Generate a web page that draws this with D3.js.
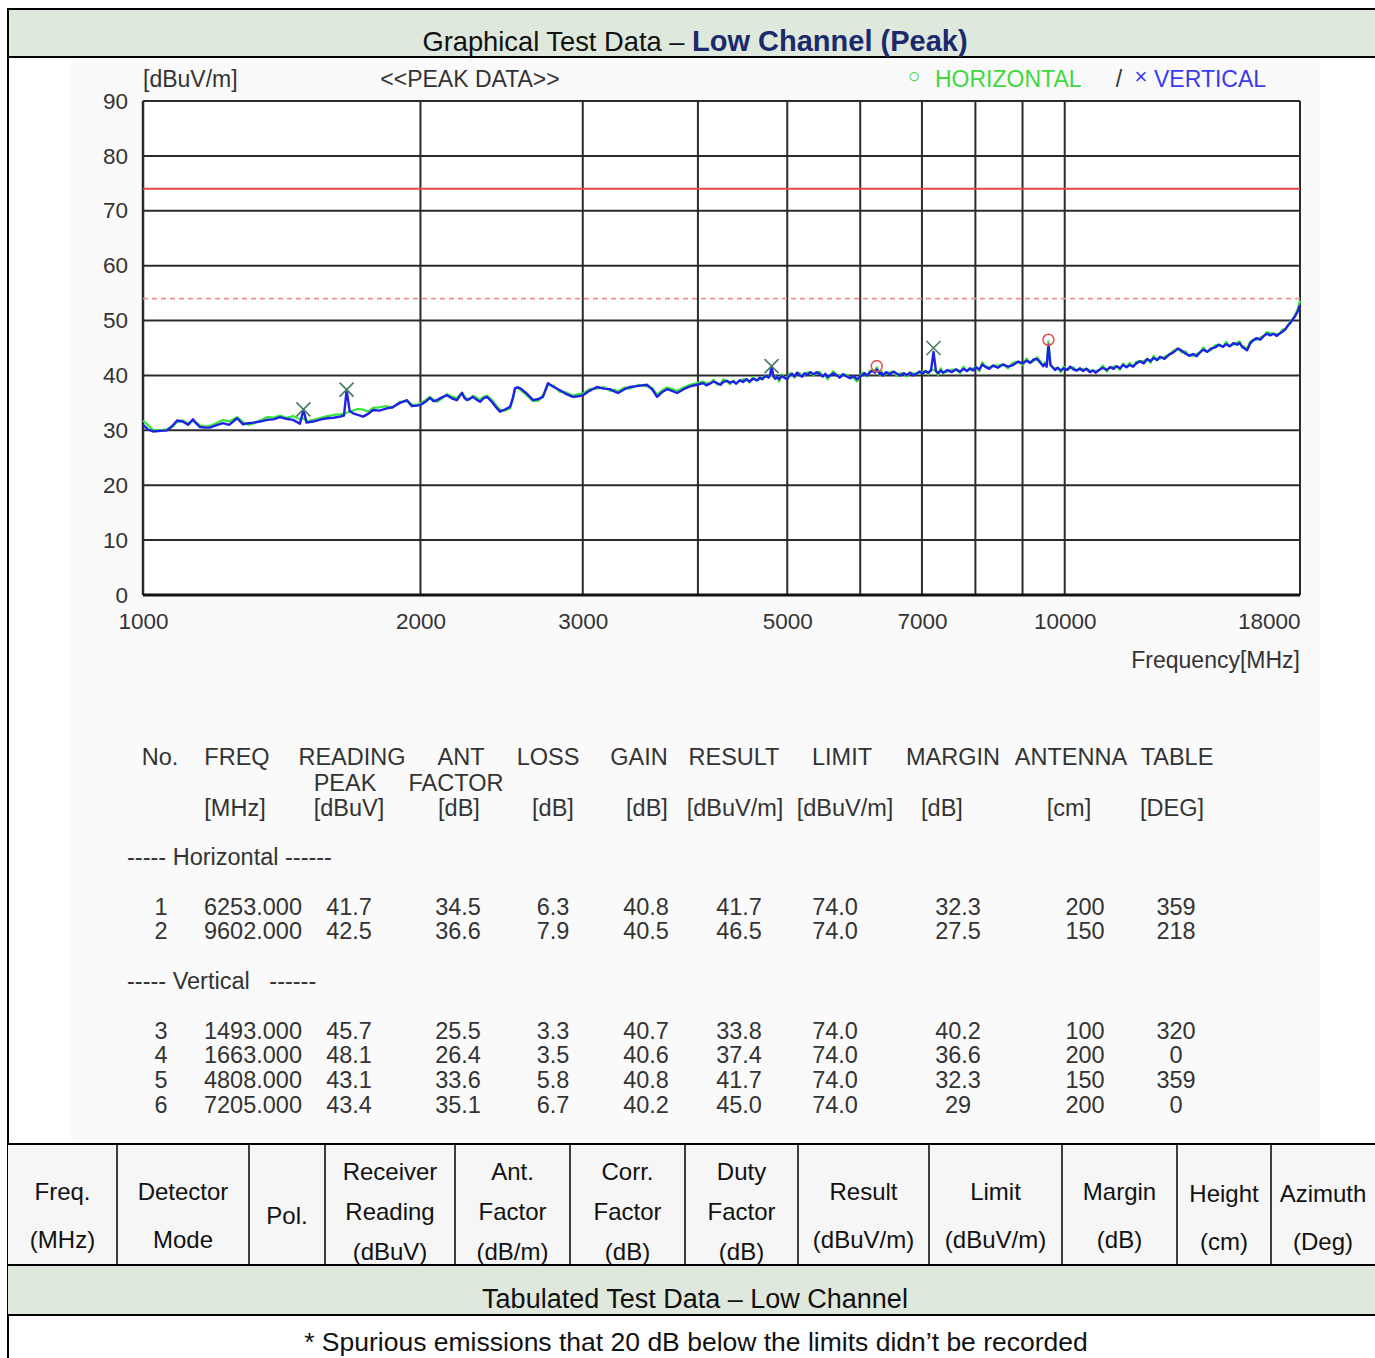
<!DOCTYPE html>
<html>
<head>
<meta charset="utf-8">
<script src="https://cdn.jsdelivr.net/npm/d3@7/dist/d3.min.js"></script>
<style>
  html, body { margin: 0; padding: 0; background: #ffffff; }
  svg { display: block; }
  text { font-family: "Liberation Sans", Arial, Helvetica, sans-serif; }
</style>
</head>
<body>
<svg id="page" width="1375" height="1358"></svg>
<script>
// ---------------- sweep data (MHz, dBuV/m) ----------------
const freqMHz = [
  1000, 1012, 1025, 1045, 1062, 1076, 1089, 1104, 1119, 1133,
  1143, 1153, 1168, 1182, 1200, 1221, 1240, 1265, 1284, 1300,
  1316, 1340, 1363, 1385, 1408, 1430, 1455, 1480, 1493, 1505,
  1530, 1560, 1584, 1610, 1636, 1652, 1663, 1676, 1690, 1710,
  1733, 1755, 1777, 1805, 1839, 1865, 1900, 1934, 1958, 1980,
  2000, 2025, 2048, 2066, 2084, 2110, 2137, 2165, 2191, 2205,
  2219, 2232, 2246, 2263, 2280, 2300, 2321, 2340, 2362, 2390,
  2422, 2440, 2470, 2502, 2520, 2533, 2550, 2565, 2600, 2650,
  2685, 2716, 2735, 2750, 2790, 2834, 2880, 2927, 2965, 3001,
  3050, 3108, 3160, 3211, 3245, 3276, 3330, 3376, 3450, 3523,
  3570, 3612, 3660, 3703, 3750, 3797, 3860, 3922, 3990, 4052,
  4085, 4120, 4160, 4196, 4230, 4260, 4300, 4334, 4370, 4400,
  4440, 4477, 4515, 4550, 4590, 4636, 4670, 4700, 4728, 4753,
  4772, 4790, 4808, 4830, 4850, 4874, 4900, 4930, 4965, 4997,
  5030, 5060, 5090, 5124, 5160, 5190, 5220, 5253, 5300, 5340,
  5380, 5427, 5465, 5500, 5530, 5565, 5610, 5650, 5700, 5748,
  5800, 5850, 5900, 5952, 5990, 6030, 6065, 6103, 6150, 6194,
  6225, 6253, 6280, 6300, 6325, 6351, 6400, 6460, 6520, 6577,
  6630, 6690, 6740, 6794, 6850, 6900, 6960, 7019, 7065, 7110,
  7160, 7205, 7250, 7290, 7335, 7379, 7460, 7540, 7620, 7700,
  7765, 7830, 7890, 7954, 8015, 8080, 8140, 8196, 8280, 8362,
  8460, 8570, 8680, 8787, 8900, 9010, 9090, 9170, 9250, 9333,
  9400, 9474, 9520, 9560, 9602, 9650, 9700, 9761, 9830, 9900,
  9980, 10060, 10140, 10220, 10300, 10390, 10470, 10560, 10650, 10730,
  10810, 10900, 11000, 11110, 11200, 11300, 11390, 11480, 11570, 11670,
  11760, 11860, 11960, 12070, 12180, 12290, 12390, 12490, 12590, 12690,
  12830, 12980, 13120, 13270, 13400, 13520, 13650, 13780, 13900, 14020,
  14140, 14270, 14410, 14560, 14700, 14850, 14970, 15100, 15240, 15380,
  15480, 15580, 15670, 15770, 15890, 16010, 16150, 16300, 16440, 16580,
  16710, 16850, 16990, 17130, 17240, 17350, 17450, 17560, 17670, 17780,
  17890, 18000
];

const verticalTrace = [
  31.0, 30.2, 29.8, 29.9, 30.0, 30.8, 31.8, 31.6, 31.0, 32.0,
  31.2, 30.6, 30.5, 30.5, 30.9, 31.3, 31.0, 32.2, 31.1, 31.3,
  31.4, 31.6, 31.9, 32.0, 32.4, 32.1, 31.9, 31.2, 33.7, 31.4,
  31.6, 32.0, 32.2, 32.3, 32.5, 32.7, 37.3, 33.5, 33.1, 32.8,
  32.5, 33.0, 33.7, 33.6, 34.0, 34.2, 35.0, 35.5, 34.4, 34.5,
  34.6, 35.2, 35.9, 35.3, 35.5, 36.0, 36.4, 35.8, 35.5, 36.2,
  36.8, 35.9, 35.5, 35.8, 36.1, 35.6, 35.2, 35.8, 36.1, 35.2,
  34.0, 33.4, 33.8, 34.3, 36.0, 37.7, 37.8, 37.7, 36.9, 35.5,
  35.7, 36.1, 37.5, 38.6, 37.9, 37.3, 36.6, 36.1, 36.2, 36.4,
  37.2, 37.9, 37.6, 37.5, 37.1, 36.8, 37.5, 37.9, 38.1, 38.3,
  37.4, 36.1, 37.0, 37.5, 37.2, 36.8, 37.5, 38.0, 38.3, 38.6,
  38.2, 38.5, 38.9, 38.6, 38.3, 38.8, 39.0, 38.7, 38.9, 38.5,
  39.1, 38.8, 39.3, 38.9, 39.4, 39.1, 39.6, 39.3, 39.8, 39.9,
  39.6, 40.1, 41.7, 39.9, 39.4, 39.7, 39.3, 39.9, 39.6, 39.3,
  40.0, 40.3, 39.8, 40.5, 40.0, 39.8, 40.4, 40.1, 40.6, 40.2,
  40.6, 40.2, 39.8, 40.3, 39.7, 40.0, 40.4, 40.1, 39.6, 40.2,
  39.8, 39.5, 39.9, 39.3, 39.7, 40.1, 40.4, 40.0, 40.6, 40.9,
  40.5, 41.1, 40.7, 40.2, 40.5, 40.0, 40.6, 40.2, 40.7, 40.3,
  40.0, 40.4, 40.1, 40.5, 40.0, 40.3, 40.7, 40.4, 40.8, 40.5,
  40.9, 44.3, 40.8, 40.4, 40.9, 40.5, 41.0, 40.6, 41.1, 40.7,
  41.2, 40.8, 41.3, 40.9, 41.5, 41.1, 42.0, 41.6, 41.2, 41.8,
  41.4, 42.0, 41.6, 41.9, 42.5, 42.2, 42.7, 42.3, 42.9, 43.0,
  42.4, 41.7, 42.1, 41.6, 45.6, 41.9, 41.5, 41.0, 41.4, 40.9,
  41.3, 41.0, 41.6, 41.1, 40.9, 41.3, 40.8, 41.2, 40.6, 40.9,
  40.5, 41.0, 41.4, 41.0, 41.5, 41.2, 41.7, 41.3, 41.9, 41.5,
  41.9, 41.6, 42.2, 42.6, 42.2, 43.0, 42.6, 43.2, 42.8, 43.4,
  43.0, 43.8, 44.2, 44.9, 44.5, 44.0, 43.6, 43.9, 43.5, 44.2,
  44.7, 44.3, 44.9, 45.1, 45.6, 45.2, 45.7, 45.3, 45.9, 45.6,
  45.9, 45.2, 44.9, 44.6, 45.8, 46.4, 46.8, 46.5, 47.2, 47.6,
  47.3, 47.6, 47.2, 47.7, 48.0, 48.4, 49.0, 49.5, 50.2, 50.8,
  51.6, 52.8
];

const horizontalTrace = [
  31.8, 31.0, 30.1, 30.0, 30.2, 30.6, 31.5, 31.8, 31.3, 31.7,
  31.4, 30.9, 30.7, 30.8, 31.3, 31.9, 31.6, 32.4, 31.5, 31.0,
  31.2, 31.8, 32.4, 32.3, 32.7, 32.3, 32.6, 32.0, 32.2, 31.6,
  31.9, 32.3, 32.6, 32.8, 32.9, 33.0, 33.2, 33.4, 33.6, 33.9,
  33.8, 33.4, 34.1, 34.2, 34.4, 34.1, 35.2, 35.3, 34.7, 34.6,
  34.9, 35.5, 36.1, 35.6, 35.2, 35.8, 36.6, 36.1, 35.9, 36.4,
  36.9, 36.2, 35.8, 35.6, 36.3, 36.0, 35.5, 36.1, 36.3, 35.6,
  34.3, 33.8, 33.6, 34.0, 35.7, 37.5, 37.9, 37.4, 36.6, 35.3,
  35.4, 36.4, 37.3, 38.3, 38.1, 37.0, 36.9, 36.3, 36.6, 36.7,
  37.5, 37.6, 37.9, 37.2, 37.4, 37.1, 37.8, 37.6, 38.3, 38.0,
  37.7, 36.5, 37.3, 37.8, 37.5, 37.2, 37.8, 38.3, 38.6, 38.9,
  38.6, 38.5, 39.2, 38.4, 38.3, 39.3, 39.0, 38.4, 39.1, 38.5,
  39.1, 39.3, 39.3, 38.7, 39.7, 39.1, 39.3, 39.7, 39.8, 39.7,
  39.9, 40.1, 40.2, 39.7, 39.8, 39.7, 38.9, 40.2, 39.6, 39.5,
  40.4, 40.3, 39.6, 40.5, 40.4, 39.8, 40.1, 40.5, 40.6, 40.0,
  40.6, 40.6, 39.8, 40.0, 39.3, 40.0, 40.8, 40.1, 39.9, 40.2,
  40.1, 39.5, 39.6, 38.9, 39.7, 40.5, 40.4, 39.8, 40.9, 40.9,
  40.8, 41.5, 40.7, 40.0, 40.8, 40.0, 40.3, 40.6, 40.7, 39.9,
  40.4, 40.4, 39.8, 40.5, 40.4, 40.3, 40.4, 40.8, 40.8, 40.2,
  41.2, 41.0, 40.8, 40.1, 41.3, 40.5, 40.7, 41.0, 41.1, 40.4,
  41.6, 40.8, 41.0, 41.3, 41.5, 40.8, 42.4, 41.6, 41.5, 41.8,
  41.8, 42.0, 41.3, 42.3, 42.5, 41.9, 43.1, 42.3, 42.6, 43.3,
  42.7, 41.7, 42.4, 41.9, 46.2, 42.1, 41.5, 41.3, 41.4, 40.6,
  41.6, 41.0, 41.3, 41.5, 40.9, 41.0, 41.2, 41.2, 40.9, 40.9,
  40.8, 41.0, 41.8, 40.7, 41.5, 41.6, 41.7, 41.0, 42.2, 41.5,
  42.3, 41.6, 42.5, 42.6, 42.6, 43.0, 42.3, 43.6, 42.8, 43.1,
  43.4, 43.8, 44.5, 44.9, 44.2, 44.4, 43.6, 43.6, 43.9, 44.2,
  45.1, 44.3, 44.6, 45.5, 45.6, 45.2, 46.1, 45.3, 45.6, 46.0,
  46.2, 45.2, 45.3, 44.6, 46.2, 46.4, 46.5, 46.9, 47.2, 47.9,
  47.7, 47.6, 47.5, 47.7, 48.4, 48.4, 49.0, 49.8, 50.2, 51.0,
  52.0, 53.6
];

// ---------------- axes ----------------
const yTicks = [0, 10, 20, 30, 40, 50, 60, 70, 80, 90];
const xTickLabels = [1000, 2000, 3000, 5000, 7000, 10000, 18000];
const xGridLines = [2000, 3000, 4000, 5000, 6000, 7000, 8000, 9000, 10000];
const peakLimit = 74;
const averageLimit = 54;

// ---------------- peak list ----------------
const peakNo      = [1, 2, 3, 4, 5, 6];
const peakPol     = ["H", "H", "V", "V", "V", "V"];
const peakFreq    = [6253, 9602, 1493, 1663, 4808, 7205];
const peakReading = [41.7, 42.5, 45.7, 48.1, 43.1, 43.4];
const antFactor   = [34.5, 36.6, 25.5, 26.4, 33.6, 35.1];
const cableLoss   = [6.3, 7.9, 3.3, 3.5, 5.8, 6.7];
const ampGain     = [40.8, 40.5, 40.7, 40.6, 40.8, 40.2];
const peakResult  = [41.7, 46.5, 33.8, 37.4, 41.7, 45.0];
const peakLimitCol = [74.0, 74.0, 74.0, 74.0, 74.0, 74.0];
const peakMargin  = [32.3, 27.5, 40.2, 36.6, 32.3, 29];
const antHeight   = [200, 150, 100, 200, 150, 200];
const tableDeg    = [359, 218, 320, 0, 359, 0];

const listHead1 = ["No.", "FREQ", "READING", "ANT", "LOSS", "GAIN", "RESULT", "LIMIT", "MARGIN", "ANTENNA", "TABLE"];
const listHead2 = ["", "", "PEAK", "FACTOR", "", "", "", "", "", "", ""];
const listUnits = ["", "[MHz]", "[dBuV]", "[dB]", "[dB]", "[dB]", "[dBuV/m]", "[dBuV/m]", "[dB]", "[cm]", "[DEG]"];

// ---------------- summary table header ----------------
const summaryHeads = [
  ["Freq.", "(MHz)"], ["Detector", "Mode"], ["Pol."],
  ["Receiver", "Reading", "(dBuV)"], ["Ant.", "Factor", "(dB/m)"],
  ["Corr.", "Factor", "(dB)"], ["Duty", "Factor", "(dB)"],
  ["Result", "(dBuV/m)"], ["Limit", "(dBuV/m)"], ["Margin", "(dB)"],
  ["Height", "(cm)"], ["Azimuth", "(Deg)"]
];
const summaryEdges = [8, 117, 249, 325, 455, 570, 685, 798, 929, 1062, 1177, 1271, 1375];

// ================= drawing =================
(function draw() {
const W = 1375, H = 1358;
const svg = d3.select("#page");
const band = "#dfe8dc";
const ink = "#333333";

// report frame + title band
svg.append("rect").attr("x", 8).attr("y", 9).attr("width", W - 8).attr("height", 48).attr("fill", band);
svg.append("line").attr("x1", 8).attr("x2", W).attr("y1", 9).attr("y2", 9).attr("stroke", "#000").attr("stroke-width", 2);
svg.append("line").attr("x1", 8).attr("x2", W).attr("y1", 57).attr("y2", 57).attr("stroke", "#000").attr("stroke-width", 2);
svg.append("line").attr("x1", 8).attr("x2", 8).attr("y1", 8).attr("y2", H).attr("stroke", "#000").attr("stroke-width", 2);

const title = svg.append("text").attr("x", 695).attr("y", 51).attr("text-anchor", "middle")
  .attr("font-size", 27.3);
title.append("tspan").attr("fill", "#111").text("Graphical Test Data \u2013 ");
title.append("tspan").attr("fill", "#1b2a6b").attr("font-weight", "bold").attr("font-size", 29).text("Low Channel (Peak)");

// measurement printout area
svg.append("rect").attr("x", 71).attr("y", 58).attr("width", 1249).attr("height", 1084).attr("fill", "#fafafa");

const x = d3.scaleLog().domain([1000, 18000]).range([143, 1300]);
const y = d3.scaleLinear().domain([0, 90]).range([595, 101]);

svg.append("rect").attr("x", x(1000)).attr("y", y(90))
  .attr("width", x(18000) - x(1000)).attr("height", y(0) - y(90)).attr("fill", "#ffffff");

const grid = svg.append("g");
grid.selectAll("line.h").data(yTicks.filter(d => d > 0)).join("line")
  .attr("x1", x(1000)).attr("x2", x(18000)).attr("y1", d => y(d)).attr("y2", d => y(d))
  .attr("stroke", "#2b2b2b").attr("stroke-width", 2);
grid.selectAll("line.v").data(xGridLines).join("line")
  .attr("x1", d => x(d)).attr("x2", d => x(d)).attr("y1", y(90)).attr("y2", y(0))
  .attr("stroke", "#2b2b2b").attr("stroke-width", 2);
grid.append("line").attr("x1", x(18000)).attr("x2", x(18000)).attr("y1", y(90)).attr("y2", y(0))
  .attr("stroke", "#2b2b2b").attr("stroke-width", 2);
grid.append("line").attr("x1", x(1000)).attr("x2", x(1000)).attr("y1", y(90)).attr("y2", y(0))
  .attr("stroke", "#2b2b2b").attr("stroke-width", 2.5);
grid.append("line").attr("x1", x(1000)).attr("x2", x(18000)).attr("y1", y(0)).attr("y2", y(0))
  .attr("stroke", "#111").attr("stroke-width", 3);

// limit lines
svg.append("line").attr("x1", x(1000)).attr("x2", x(18000)).attr("y1", y(peakLimit)).attr("y2", y(peakLimit))
  .attr("stroke", "#e84545").attr("stroke-width", 2);
svg.append("line").attr("x1", x(1000)).attr("x2", x(18000)).attr("y1", y(averageLimit)).attr("y2", y(averageLimit))
  .attr("stroke", "#f29090").attr("stroke-width", 1.6).attr("stroke-dasharray", "5,4");

// axes (labels only, grid drawn above)
const yAxis = svg.append("g").attr("transform", `translate(${x(1000)},0)`)
  .call(d3.axisLeft(y).tickValues(yTicks).tickSize(0).tickPadding(15));
const xAxis = svg.append("g").attr("transform", `translate(0,${y(0)})`)
  .call(d3.axisBottom(x).tickValues(xTickLabels).tickFormat(d3.format("d")).tickSize(0).tickPadding(18));
[yAxis, xAxis].forEach(a => {
  a.select(".domain").remove();
  a.selectAll("text").attr("font-size", 22.5).attr("fill", ink)
    .attr("font-family", "'Liberation Sans', Arial, sans-serif");
});
xAxis.selectAll(".tick text").filter(d => d === 18000).attr("text-anchor", "end").attr("dx", 0);

// traces
const line = d3.line().x(d => x(d[0])).y(d => y(d[1]));
const hPts = freqMHz.map((f, i) => [f, horizontalTrace[i]]);
const vPts = freqMHz.map((f, i) => [f, verticalTrace[i]]);
svg.append("path").datum(hPts).attr("d", line).attr("fill", "none")
  .attr("stroke", "#35e835").attr("stroke-width", 2.2).attr("stroke-linejoin", "round");
svg.append("path").datum(vPts).attr("d", line).attr("fill", "none")
  .attr("stroke", "#1f22e6").attr("stroke-width", 2.4).attr("stroke-linejoin", "round");

// peak markers
const marks = svg.append("g");
peakNo.forEach((n, i) => {
  const cx = x(peakFreq[i]), cy = y(peakResult[i]);
  if (peakPol[i] === "H") {
    marks.append("circle").attr("cx", cx).attr("cy", cy).attr("r", 5.5)
      .attr("fill", "none").attr("stroke", "#e25555").attr("stroke-width", 1.6);
  } else {
    const s = 7;
    marks.append("path").attr("d", `M${cx - s},${cy - s}L${cx + s},${cy + s}M${cx - s},${cy + s}L${cx + s},${cy - s}`)
      .attr("stroke", "#4d7d66").attr("stroke-width", 1.7).attr("fill", "none");
  }
});

// chart captions
const cap = (tx, ty, str, opts = {}) => svg.append("text").attr("x", tx).attr("y", ty)
  .attr("font-size", opts.size || 23).attr("fill", opts.fill || ink)
  .attr("text-anchor", opts.anchor || "start").text(str);
cap(143, 87, "[dBuV/m]");
cap(470, 87, "<<PEAK DATA>>", { anchor: "middle" });
cap(1300, 668, "Frequency[MHz]", { anchor: "end" });
cap(914, 83, "\u25cb", { size: 21, fill: "#3fd83f", anchor: "middle" });
cap(935, 87, "HORIZONTAL", { fill: "#3fd83f" });
cap(1119, 87, "/", { anchor: "middle" });
cap(1141, 84, "\u00d7", { size: 22, fill: "#3a3af0", anchor: "middle" });
cap(1154, 87, "VERTICAL", { fill: "#3a3af0" });

// peak list printout
const headX  = [160, 237, 352, 461, 548, 639, 734, 842, 953, 1071, 1177];
const head2X = [160, 237, 345, 456, 548, 639, 734, 842, 953, 1071, 1177];
const unitX  = [160, 235, 349, 459, 553, 647, 735, 845, 942, 1069, 1172];
const valX   = [161, 253, 349, 458, 553, 646, 739, 835, 958, 1085, 1176];
const listSize = 23.5;
const list = svg.append("g").attr("font-size", listSize).attr("fill", ink).attr("text-anchor", "middle");
listHead1.forEach((t, i) => list.append("text").attr("x", headX[i]).attr("y", 765).text(t));
listHead2.forEach((t, i) => { if (t) list.append("text").attr("x", head2X[i]).attr("y", 791).text(t); });
listUnits.forEach((t, i) => { if (t) list.append("text").attr("x", unitX[i]).attr("y", 816).text(t); });

list.append("text").attr("x", 127).attr("y", 865).attr("text-anchor", "start")
  .style("white-space", "pre").text("----- Horizontal ------");
list.append("text").attr("x", 127).attr("y", 989).attr("text-anchor", "start")
  .style("white-space", "pre").text("----- Vertical   ------");

const rowY = [915, 939, 1039, 1063, 1088, 1113];
const f1 = d3.format(".1f"), f3 = d3.format(".3f");
peakNo.forEach((n, i) => {
  const cells = [String(n), f3(peakFreq[i]), f1(peakReading[i]), f1(antFactor[i]), f1(cableLoss[i]),
    f1(ampGain[i]), f1(peakResult[i]), f1(peakLimitCol[i]), String(peakMargin[i]),
    String(antHeight[i]), String(tableDeg[i])];
  cells.forEach((c, j) => list.append("text").attr("x", valX[j]).attr("y", rowY[i]).text(c));
});

// summary table header row
const hdrTop = 1144, hdrBottom = 1265, bandBottom = 1315;
svg.append("rect").attr("x", 8).attr("y", hdrTop).attr("width", W - 8).attr("height", hdrBottom - hdrTop).attr("fill", "#f6f6f6");
svg.append("rect").attr("x", 8).attr("y", hdrBottom).attr("width", W - 8).attr("height", bandBottom - hdrBottom).attr("fill", band);
[hdrTop, hdrBottom, bandBottom].forEach(yy => svg.append("line").attr("x1", 8).attr("x2", W)
  .attr("y1", yy).attr("y2", yy).attr("stroke", "#000").attr("stroke-width", 2));
summaryEdges.slice(1, -1).forEach(xx => svg.append("line").attr("x1", xx).attr("x2", xx)
  .attr("y1", hdrTop).attr("y2", hdrBottom).attr("stroke", "#000").attr("stroke-width", 1.5));

const lineCenters = { 1: [1215], 2: [1191, 1239], 3: [1171, 1211, 1251] };
summaryHeads.forEach((lines, i) => {
  const cx = (summaryEdges[i] + summaryEdges[i + 1]) / 2;
  let ys = lineCenters[lines.length];
  if (i >= 10) ys = ys.map(v => v + 2);
  lines.forEach((t, k) => svg.append("text").attr("x", cx).attr("y", ys[k] + 8.5)
    .attr("text-anchor", "middle").attr("font-size", 24).attr("fill", "#111").text(t));
});

svg.append("text").attr("x", 695).attr("y", 1308).attr("text-anchor", "middle")
  .attr("font-size", 27).attr("fill", "#111").text("Tabulated Test Data \u2013 Low Channel");
svg.append("text").attr("x", 696).attr("y", 1351).attr("text-anchor", "middle")
  .attr("font-size", 26.5).attr("fill", "#111")
  .text("* Spurious emissions that 20 dB below the limits didn\u2019t be recorded");
})();
</script>
</body>
</html>
